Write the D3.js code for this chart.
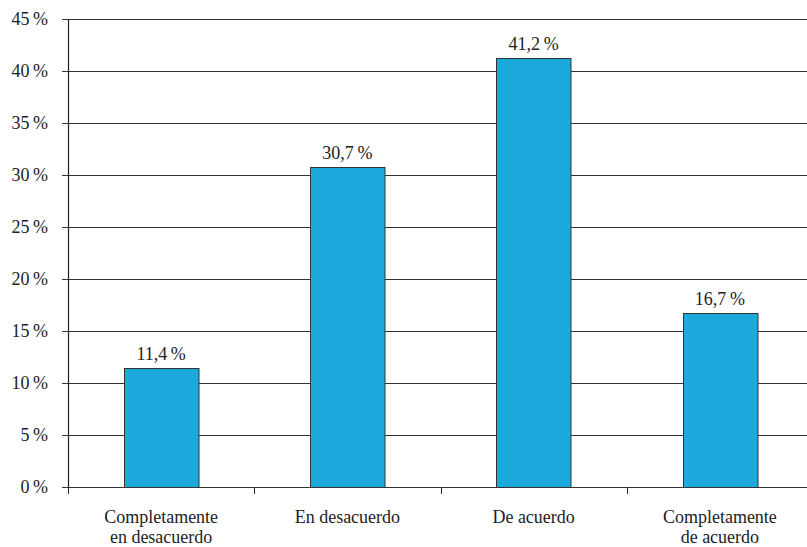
<!DOCTYPE html>
<html><head><meta charset="utf-8">
<script src="https://cdn.jsdelivr.net/npm/d3@7"></script>
<style>body{margin:0;background:#fff}svg{display:block}</style>
</head><body>
<script>
const categories = [["Completamente","en desacuerdo"],["En desacuerdo"],["De acuerdo"],["Completamente","de acuerdo"]];
const values = [11.4, 30.7, 41.2, 16.7];
const valueLabels = ["11,4\u2009%","30,7\u2009%","41,2\u2009%","16,7\u2009%"];
const yTicks = [0,5,10,15,20,25,30,35,40,45];

const W = 807, H = 547;
const FONT = "'Times New Roman', 'Liberation Serif', Tinos, 'DejaVu Serif', 'Noto Serif', serif";
const svg = d3.select("body").append("svg").attr("width", W).attr("height", H)
  .style("font-family", FONT);

const x = d3.scaleBand().domain(d3.range(categories.length)).range([68, 813]).paddingInner(0.6).paddingOuter(0.3);
const y = d3.scaleLinear().domain([0,45]).range([487, 18.5]);

// gridlines + left ticks
svg.append("g").selectAll("line").data(yTicks).join("line")
  .attr("x1", 62).attr("x2", W).attr("y1", d => Math.round(y(d))+0.5).attr("y2", d => Math.round(y(d))+0.5)
  .attr("stroke", "#333").attr("stroke-width", 1);

// y labels
svg.append("g").selectAll("text").data(yTicks).join("text")
  .attr("x", 48).attr("y", d => y(d) + 6).attr("text-anchor", "end")
  .style("font-family", FONT).attr("font-size", 18).attr("fill", "#222")
  .text(d => d + "\u2009%");

// bars
svg.append("g").selectAll("rect").data(values).join("rect")
  .attr("x", (d,i) => Math.round(x(i))+0.5).attr("width", x.bandwidth())
  .attr("y", d => Math.round(y(d))+0.5).attr("height", d => Math.round(y(0)) - Math.round(y(d)))
  .attr("fill", "#1ca9dc").attr("stroke", "#333").attr("stroke-width", 1);

// value labels
svg.append("g").selectAll("text").data(values).join("text")
  .attr("x", (d,i) => x(i) + x.bandwidth()/2).attr("y", d => y(d) - 8)
  .attr("text-anchor", "middle").style("font-family", FONT).attr("font-size", 18).attr("fill", "#222")
  .text((d,i) => valueLabels[i]);

// y axis line
svg.append("line").attr("x1", 68.5).attr("x2", 68.5).attr("y1", Math.round(y(45))).attr("y2", 488)
  .attr("stroke", "#222").attr("stroke-width", 1.2);

// bottom ticks at band boundaries
const bounds = d3.range(categories.length).map(i => x(i) - x.step()*x.paddingInner()/2);
bounds[0] = 68;
svg.append("g").selectAll("line").data(bounds).join("line")
  .attr("x1", d => Math.round(d)+0.5).attr("x2", d => Math.round(d)+0.5)
  .attr("y1", 487).attr("y2", 494).attr("stroke", "#222").attr("stroke-width", 1);

// category labels
const cl = svg.append("g").selectAll("text").data(categories).join("text")
  .attr("x", (d,i) => x(i) + x.bandwidth()/2).attr("y", 523)
  .attr("text-anchor", "middle").style("font-family", FONT).attr("font-size", 18).attr("fill", "#222");
cl.selectAll("tspan").data(d => d).join("tspan")
  .attr("x", function(){ return this.parentNode.getAttribute("x"); })
  .attr("dy", (d,j) => j === 0 ? 0 : 19.5).text(d => d);
</script>
</body></html>
